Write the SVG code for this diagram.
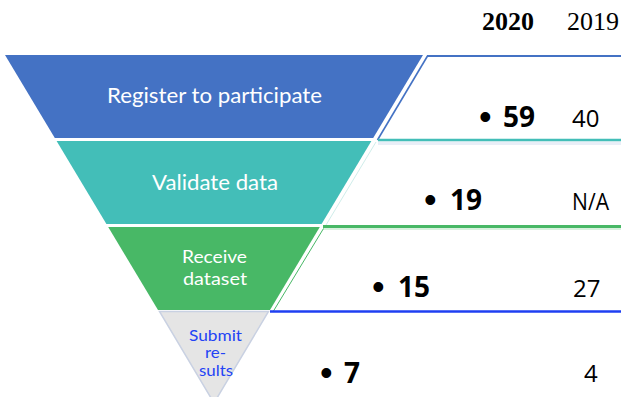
<svg xmlns="http://www.w3.org/2000/svg" width="621" height="397" viewBox="0 0 621 397">
  <style>
    .year { font-family: "Liberation Serif", "Times New Roman", serif; font-size: 26px; fill: #000; }
    .stage { font-family: Lato, "Open Sans", sans-serif; fill: #fff; text-anchor: middle; }
    .now { font-family: "Open Sans", "Noto Sans", sans-serif; font-weight: 700; font-size: 28px; fill: #000; }
    .bul { font-family: "Liberation Sans", Arial, sans-serif; font-weight: 400; font-size: 36px; }
    .prev { font-family: "Open Sans", "Noto Sans", sans-serif; font-size: 24px; fill: #000; }
  </style>

  <rect width="621" height="397" fill="#fff"/>

  <!-- column headings -->
  <text class="year" x="482" y="30" font-weight="700" textLength="52" lengthAdjust="spacingAndGlyphs">2020</text>
  <text class="year" x="567" y="30" textLength="52" lengthAdjust="spacingAndGlyphs">2019</text>

  <!-- row frames to the right of the funnel -->
  <g id="row-lines" fill="none">
    <line x1="427" y1="56" x2="621" y2="56" stroke="#4472C4" stroke-width="2"/>
    <line x1="427.5" y1="56" x2="377.5" y2="140" stroke="#4472C4" stroke-width="1.6"/>
    <rect x="378" y="141.5" width="243" height="3.5" fill="#E9EEF7" stroke="none"/>
    <line x1="378" y1="140" x2="621" y2="140" stroke="#43BEB8" stroke-width="2.5"/>
    <line x1="376" y1="142" x2="326" y2="225" stroke="#CFEDEA" stroke-width="1"/>
    <rect x="323" y="228" width="298" height="2" fill="#D8F1DE" stroke="none"/>
    <line x1="323" y1="226.5" x2="621" y2="226.5" stroke="#48B866" stroke-width="3"/>
    <line x1="323.5" y1="228.5" x2="273.5" y2="311" stroke="#48B866" stroke-width="1"/>
    <line x1="270" y1="311.5" x2="621" y2="311.5" stroke="#1F3FF2" stroke-width="2.5"/>
  </g>

  <!-- funnel stages -->
  <g id="stage-register">
    <polygon points="5,55 423,55 373.2,138 54.8,138" fill="#4472C4"/>
    <text class="stage" x="214.5" y="103" font-size="21" textLength="215" lengthAdjust="spacingAndGlyphs">Register to participate</text>
    <text class="now" y="127"><tspan class="bul" x="479" dy="2">•</tspan><tspan x="503" dy="-2">59</tspan></text>
    <text class="prev" x="572" y="127">40</text>
  </g>

  <g id="stage-validate">
    <polygon points="56.6,141 371.4,141 321.6,224 106.4,224" fill="#43BEB8"/>
    <text class="stage" x="215" y="190" font-size="21" textLength="126" lengthAdjust="spacingAndGlyphs">Validate data</text>
    <text class="now" y="210"><tspan class="bul" x="424" dy="2">•</tspan><tspan x="450" dy="-2">19</tspan></text>
    <text class="prev" x="572" y="210" font-size="19" textLength="37" lengthAdjust="spacingAndGlyphs">N/A</text>
  </g>

  <g id="stage-receive">
    <polygon points="108.2,227 319.8,227 270,310 158,310" fill="#48B866"/>
    <text class="stage" x="214.5" y="263" font-size="18" textLength="65" lengthAdjust="spacingAndGlyphs">Receive</text>
    <text class="stage" x="215" y="285" font-size="18" textLength="64" lengthAdjust="spacingAndGlyphs">dataset</text>
    <text class="now" y="297"><tspan class="bul" x="372" dy="2">•</tspan><tspan x="398" dy="-2">15</tspan></text>
    <text class="prev" x="573" y="297">27</text>
  </g>

  <g id="stage-submit">
    <polygon points="159.5,311.5 268.5,311.5 214,403" fill="#E5E5E5" stroke="#C9D1E2" stroke-width="1.5"/>
    <g class="stage" font-size="15" style="fill:#2343F5">
      <text x="215.5" y="341" textLength="53" lengthAdjust="spacingAndGlyphs">Submit</text>
      <text x="215.5" y="358" textLength="21" lengthAdjust="spacingAndGlyphs">re-</text>
      <text x="216" y="376" textLength="34" lengthAdjust="spacingAndGlyphs">sults</text>
    </g>
    <text class="now" y="383"><tspan class="bul" x="320" dy="2">•</tspan><tspan x="344" dy="-2">7</tspan></text>
    <text class="prev" x="584" y="382">4</text>
  </g>
</svg>
